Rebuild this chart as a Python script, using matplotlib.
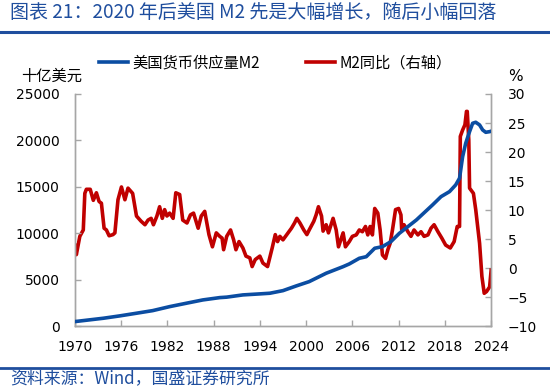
import matplotlib
matplotlib.use("Agg")
import matplotlib.pyplot as plt
from matplotlib.lines import Line2D

plt.rcParams['font.family'] = ['Noto Sans CJK SC', 'DejaVu Sans']

# 美国货币供应量M2（十亿美元）
m2_year = [1970.0, 1973.7, 1975.8, 1978.0, 1980.1, 1982.3, 1984.5, 1986.6, 1988.8,
           1989.7, 1991.8, 1994.0, 1995.3, 1997.0, 1998.7, 2000.4, 2002.6, 2004.8,
           2005.6, 2006.9, 2007.8, 2008.9, 2009.9, 2011.0, 2012.1, 2014.3, 2016.4,
           2017.5, 2018.6, 2019.4, 2019.9, 2020.3, 2020.7, 2021.2, 2021.6, 2022.0,
           2022.5, 2022.9, 2023.3, 2023.8, 2024.0]
m2_value = [520, 880, 1130, 1420, 1700, 2130, 2500, 2850, 3100,
            3150, 3390, 3500, 3570, 3850, 4350, 4820, 5720, 6430,
            6720, 7330, 7500, 8410, 8580, 9120, 10020, 11450, 13070,
            13960, 14500, 15220, 15940, 18260, 19700, 20950, 21850, 21960,
            21670, 21130, 20880, 20950, 21000]

# M2同比（%）
yoy_year = [1970.0, 1970.2, 1970.65, 1971.1, 1971.3, 1971.5, 1972.0, 1972.4, 1972.8,
            1973.15, 1973.45, 1973.8, 1974.1, 1974.45, 1974.95, 1975.2, 1975.6, 1976.05,
            1976.5, 1976.9, 1977.5, 1978.0, 1978.6, 1979.1, 1979.5, 1979.9, 1980.2,
            1980.65, 1981.0, 1981.35, 1981.65, 1981.95, 1982.3, 1982.75, 1983.1, 1983.6,
            1984.0, 1984.55, 1985.0, 1985.4, 1986.0, 1986.4, 1986.85, 1987.4, 1987.85,
            1988.35, 1988.8, 1989.1, 1989.3, 1989.7, 1990.2, 1990.6, 1990.9, 1991.3,
            1991.8, 1992.2, 1992.7, 1993.0, 1993.4, 1994.0, 1994.4, 1995.0, 1995.6,
            1996.0, 1996.3, 1996.6, 1997.0, 1997.5, 1998.1, 1998.5, 1998.8, 1999.2,
            1999.7, 2000.1, 2000.4, 2001.0, 2001.3, 2001.6, 2002.0, 2002.2, 2002.6,
            2002.9, 2003.5, 2003.9, 2004.2, 2004.5, 2004.8, 2005.1, 2005.6, 2006.0,
            2006.5, 2006.9, 2007.3, 2007.7, 2008.0, 2008.3, 2008.6, 2008.9, 2009.3,
            2009.6, 2009.9, 2010.3, 2010.6, 2010.9, 2011.2, 2011.6, 2012.0, 2012.3,
            2012.4, 2012.7, 2013.2, 2013.6, 2014.0, 2014.5, 2014.9, 2015.3, 2015.8,
            2016.2, 2016.6, 2017.1, 2017.6, 2018.1, 2018.7, 2019.2, 2019.6, 2019.9,
            2020.0, 2020.3, 2020.6, 2020.8, 2020.9, 2021.1, 2021.2, 2021.7, 2022.0,
            2022.5, 2022.8, 2023.1, 2023.4, 2023.8, 2024.0]
yoy_value = [4.0, 2.35, 5.5, 6.6, 12.9, 13.6, 13.6, 11.7, 13.0,
             11.5, 11.2, 6.9, 6.6, 5.6, 5.8, 6.1, 11.8, 14.0,
             11.8, 13.8, 12.9, 9.0, 8.1, 7.5, 8.3, 8.6, 7.5,
             9.0, 10.6, 8.6, 10.1, 9.0, 9.5, 8.6, 13.0, 12.7,
             8.3, 7.8, 9.2, 9.5, 6.9, 9.0, 9.8, 5.8, 3.7,
             6.1, 5.5, 5.2, 3.2, 5.5, 6.6, 4.9, 3.2, 4.6,
             3.5, 2.1, 1.8, 0.3, 1.5, 2.1, 0.9, 0.3, 3.5,
             5.8, 4.6, 5.5, 4.9, 5.8, 6.9, 7.8, 8.6, 7.8,
             6.6, 5.8, 6.6, 8.1, 9.2, 10.6, 9.0, 6.4, 7.5,
             6.1, 8.6, 6.6, 3.7, 4.9, 6.1, 3.7, 4.6, 5.5,
             5.75, 6.6, 6.3, 7.2, 5.75, 7.2, 5.75, 10.3, 9.5,
             6.6, 2.3, 1.7, 3.2, 4.3, 6.6, 10.1, 10.3, 9.2,
             6.6, 7.5, 6.3, 5.5, 6.6, 5.75, 6.3, 5.5, 5.75,
             6.9, 7.5, 6.3, 5.2, 4.0, 3.5, 4.6, 7.2, 7.2,
             22.7, 23.8, 24.7, 27.0, 27.0, 22.1, 13.8, 12.9, 10.1,
             4.3, -1.4, -4.3, -4.0, -3.2, -0.3]

x_ticks = list(range(1970, 2025, 6))
left_ticks = [0, 5000, 10000, 15000, 20000, 25000]
right_ticks = list(range(-10, 31, 5))

blue = '#0B4DA2'
red = '#C00000'
text_blue = '#1F4E9E'
spine_gray = '#A6A6A6'

fig = plt.figure(figsize=(5.5, 3.9), dpi=100)
ax = fig.add_axes([0.136, 0.163, 0.757, 0.596])
ax2 = ax.twinx()

ax.plot(m2_year, m2_value, color=blue, lw=2.6, solid_capstyle='round', zorder=3)
ax2.plot(yoy_year, yoy_value, color=red, lw=2.6, solid_joinstyle='round')
ax.set_zorder(ax2.get_zorder() + 1)
ax.patch.set_visible(False)

ax.set_xlim(1970, 2024)
ax.set_ylim(0, 25000)
ax2.set_ylim(-10, 30)
ax.set_xticks(x_ticks)
ax.set_yticks(left_ticks)
ax2.set_yticks(right_ticks)

for a in (ax, ax2):
    a.spines['top'].set_visible(False)
    for s in ('left', 'right', 'bottom'):
        a.spines[s].set_color(spine_gray)
        a.spines[s].set_linewidth(1.0)
    a.tick_params(direction='in', length=4, width=1, color=spine_gray, labelsize=10)
    for lab in a.get_xticklabels() + a.get_yticklabels():
        lab.set_family('DejaVu Sans')

ax.tick_params(axis='x', pad=10)
ax.tick_params(axis='y', pad=11)
ax2.tick_params(axis='y', pad=12)

fig.text(0.093, 0.805, '十亿美元', ha='center', va='center', fontsize=11)
fig.text(0.938, 0.805, '%', ha='center', va='center', fontsize=11, family='DejaVu Sans')

handles = [Line2D([], [], color=blue, lw=2.6), Line2D([], [], color=red, lw=2.6)]
fig.legend(handles, ['美国货币供应量M2', 'M2同比（右轴）'], loc='center',
           bbox_to_anchor=(0.5, 0.838), ncol=2, frameon=False, fontsize=11,
           handlelength=1.9, handletextpad=0.3, columnspacing=3.0)

fig.text(0.018, 0.967, '图表 21：2020 年后美国 M2 先是大幅增长，随后小幅回落',
         ha='left', va='center', fontsize=13.7, color=text_blue, style='italic')
fig.add_artist(Line2D([0, 1], [0.918, 0.918], color='#1F4E9E', lw=2.2))
fig.add_artist(Line2D([0, 1], [0.056, 0.056], color='#1F4E9E', lw=2.0))
fig.text(0.018, 0.027, '资料来源：Wind，国盛证券研究所', ha='left', va='center',
         fontsize=12.2, color=text_blue, style='italic')

fig.savefig('out.png', dpi=100)
